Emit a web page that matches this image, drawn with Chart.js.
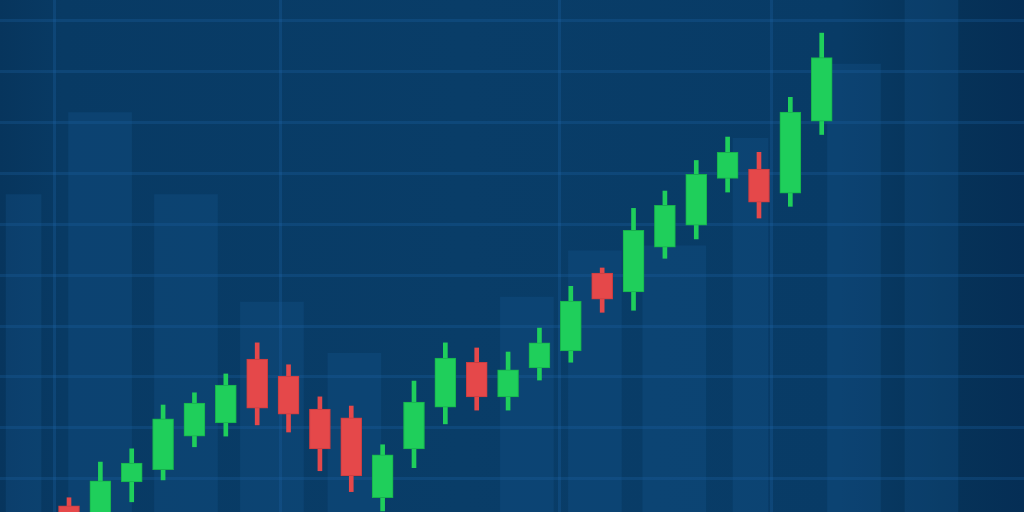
<!DOCTYPE html>
<html>
<head>
<meta charset="utf-8">
<script src="https://cdn.jsdelivr.net/npm/chart.js@4/dist/chart.umd.min.js"></script>
<style>
  html, body { margin: 0; padding: 0; background: #083b65; }
  #wrap {
    width: 1024px; height: 512px; position: relative;
    background: linear-gradient(90deg, #07355d 0%, #083a64 6%, #093d68 45%, #083b66 82%, #063359 92%, #052e55 100%);
  }
</style>
</head>
<body>
<div id="wrap"><canvas id="chart"></canvas></div>
<script>
// candles, one per session (0..24)
const opens  = [94.7, 92.5, 99.4, 101.8, 108.4, 111.0, 123.5, 120.2, 113.7, 112.0, 96.3, 105.9, 114.1, 122.9, 116.1, 121.8, 125.1, 140.4, 136.7, 145.5, 149.8, 159.0, 160.8, 156.1, 170.2];
const closes = [92.0, 99.6, 103.1, 111.8, 114.9, 118.4, 113.9, 112.7, 105.9, 100.6, 104.7, 115.1, 123.7, 116.1, 121.4, 126.7, 134.9, 135.3, 148.8, 153.7, 159.8, 164.1, 154.3, 172.0, 182.7];
const highs  = [96.3, 103.3, 105.9, 114.5, 116.9, 120.6, 126.7, 122.4, 116.1, 114.3, 106.7, 119.2, 126.7, 125.7, 124.9, 129.6, 137.8, 141.4, 153.1, 156.5, 162.5, 167.1, 164.1, 174.9, 187.5];
const lows   = [91.0, 91.0, 95.5, 99.8, 106.3, 108.4, 110.6, 109.2, 101.6, 97.5, 93.7, 102.2, 110.8, 113.5, 113.5, 119.4, 122.9, 132.7, 133.1, 143.3, 147.1, 156.3, 151.2, 153.5, 167.6];

// faint background volume bars (session position, volume)
const wideVolSessions   = [0.99, 3.73, 6.47, 19.3];
const wideVolValues     = [78, 62, 41, 52];
const midVolSessions    = [9.1, 14.6, 16.77, 25.03, 27.5];
const midVolValues      = [31, 42, 51, 87.5, 100];
const narrowVolSessions = [-1.45, 21.73];
const narrowVolValues   = [62, 73];

// grid
const priceGrid   = [100, 110, 120, 130, 140, 150, 160, 170, 180, 190];
const sessionGrid = [-0.45, 6.75, 15.65, 22.4];

const UP = '#1fcf5b', DOWN = '#e5484a';
const upDown = (i) => closes[i] >= opens[i];

const sessions = opens.map((_, i) => i);
const wicks = sessions.map(i => ({ x: i, y: [lows[i], highs[i]] }));
const bodies = sessions.map(i => ({ x: i, y: [opens[i], closes[i]] }));
const vol = (xs, vs) => xs.map((x, i) => ({ x: x, y: vs[i] }));

const volStyle = {
  yAxisID: 'yv', backgroundColor: 'rgba(22, 92, 150, 0.25)', borderWidth: 0, order: 5
};
const gridColor = 'rgba(35, 110, 180, 0.24)';

new Chart(document.getElementById('chart'), {
  type: 'bar',
  data: {
    datasets: [
      Object.assign({ data: vol(wideVolSessions, wideVolValues), barThickness: 63 }, volStyle),
      Object.assign({ data: vol(midVolSessions, midVolValues), barThickness: 53 }, volStyle),
      Object.assign({ data: vol(narrowVolSessions, narrowVolValues), barThickness: 35 }, volStyle),
      {
        data: wicks, yAxisID: 'y', barThickness: 4, order: 2,
        backgroundColor: sessions.map(i => upDown(i) ? UP : DOWN), borderWidth: 0
      },
      {
        data: bodies, yAxisID: 'y', barThickness: 21, order: 1,
        backgroundColor: sessions.map(i => upDown(i) ? UP : DOWN),
        borderColor: sessions.map(i => upDown(i) ? '#17b04d' : '#c93d40'),
        borderWidth: 1, borderSkipped: false
      }
    ]
  },
  options: {
    responsive: true,
    maintainAspectRatio: false,
    animation: false,
    grouped: false,
    layout: { padding: 0 },
    plugins: { legend: { display: false }, tooltip: { enabled: false } },
    scales: {
      x: {
        type: 'linear', min: -2.2, max: 30.45, offset: false,
        grid: { offset: false, drawTicks: false, color: gridColor, lineWidth: 3 },
        border: { display: false },
        ticks: { display: false },
        afterBuildTicks: (s) => { s.ticks = sessionGrid.map(v => ({ value: v })); }
      },
      y: {
        min: 93.5, max: 194, beginAtZero: false,
        grid: { drawTicks: false, color: gridColor, lineWidth: 3 },
        border: { display: false },
        ticks: { display: false },
        afterBuildTicks: (s) => { s.ticks = priceGrid.map(v => ({ value: v })); }
      },
      yv: { display: false, min: 0, max: 100 }
    }
  }
});
</script>
</body>
</html>
